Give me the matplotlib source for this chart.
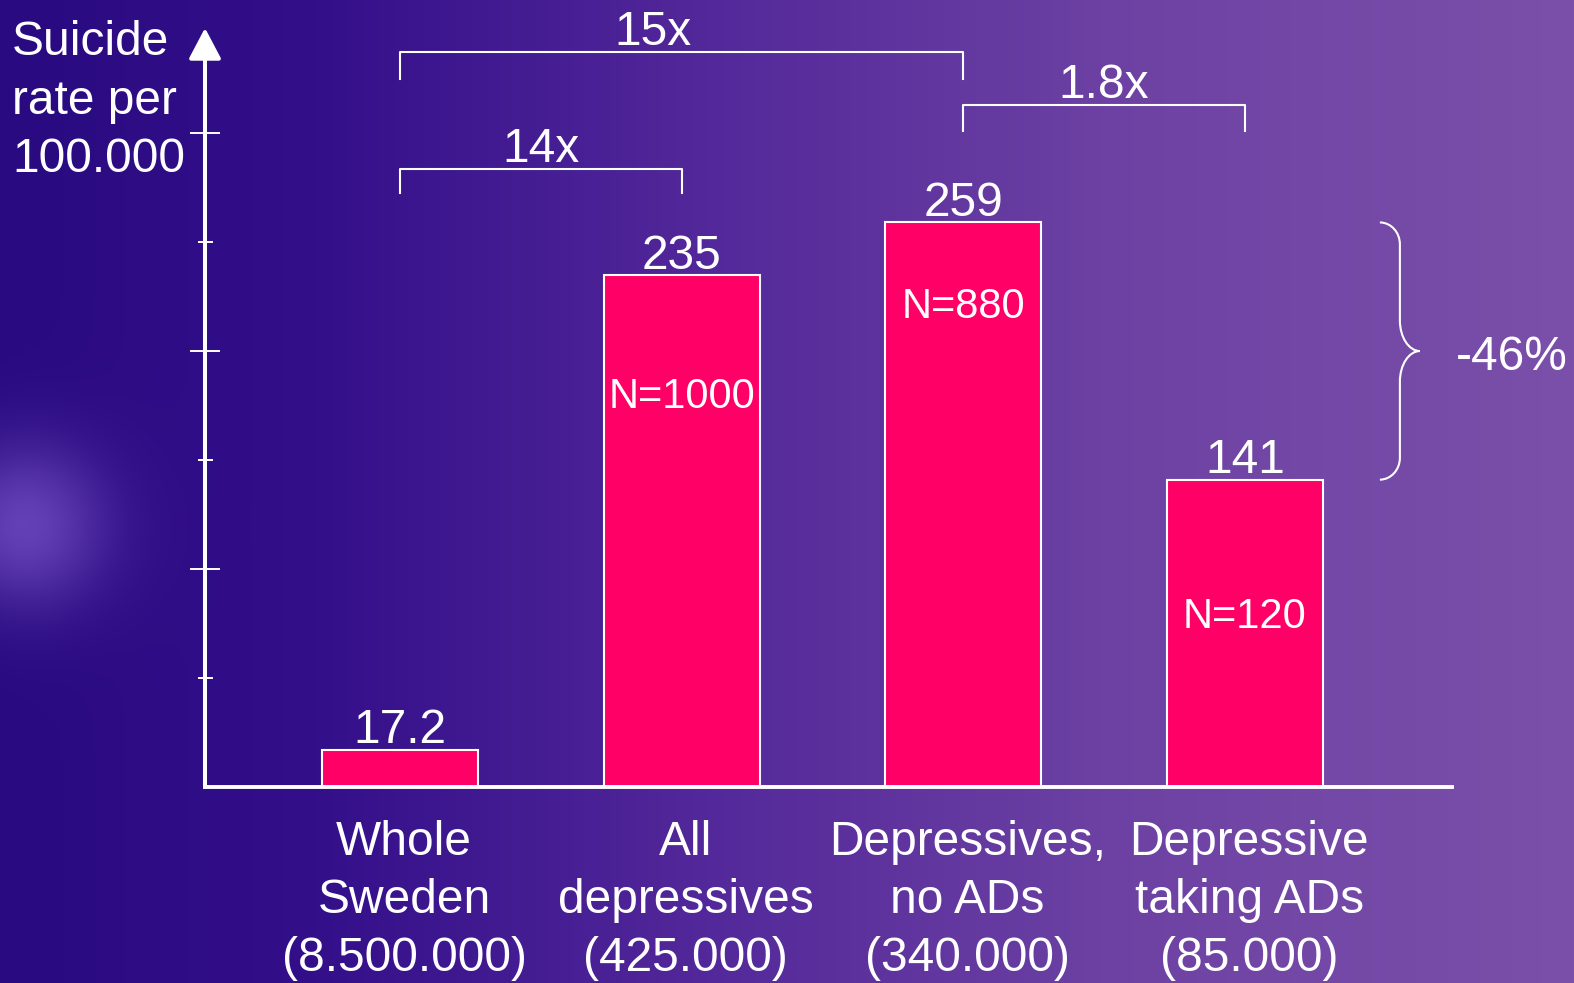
import numpy as np
import matplotlib
matplotlib.use("Agg")
import matplotlib.pyplot as plt
from matplotlib.path import Path
from matplotlib.patches import PathPatch
from matplotlib.colors import to_rgb

plt.rcParams["font.family"] = ["Liberation Sans", "DejaVu Sans"]

# suicide rate per 100.000 by group
groups = ["Whole\nSweden\n(8.500.000)", "All\ndepressives\n(425.000)",
          "Depressives,\nno ADs\n(340.000)", "Depressive\ntaking ADs\n(85.000)"]
rates = [17.2, 235, 259, 141]
rate_labels = ["17.2", "235", "259", "141"]
n_labels = ["", "N=1000", "N=880", "N=120"]
n_label_y = [0, 179, 220, 78]

# comparison brackets: (left bar, right bar, text, text x, bracket top, end drop)
brackets = [(0, 2, "15x", 0.90, 337, 12),
            (0, 1, "14x", 0.50, 283.5, 11),
            (2, 3, "1.8x", 2.50, 313, 12)]
change_label = "-46%"

FS = 34.5
W, H, DPI = 1574, 983, 100
fig = plt.figure(figsize=(W / DPI, H / DPI), dpi=DPI)

# slide background: indigo -> violet, with a soft glow at the left edge
bg = fig.add_axes([0, 0, 1, 1], zorder=-10)
stops = [0.0, 0.2, 0.45, 0.7, 1.0]
cols = np.array([to_rgb(c) for c in ["#290a80", "#330f8a", "#53289a", "#6c41a3", "#7b50aa"]])
xs = np.linspace(0, 1, W)
img = np.stack([np.interp(xs, stops, cols[:, k]) for k in range(3)], axis=-1)
img = np.repeat(img[None, :, :], H, axis=0)
yy, xx = np.mgrid[0:H, 0:W]
glow = np.exp(-(((xx - 25) ** 2 + (yy - 525) ** 2) / (2 * 58.0 ** 2)))
glow_col = np.array(to_rgb("#8a64d8"))
img = img * (1 - 0.6 * glow[..., None]) + glow_col * 0.6 * glow[..., None]
bg.imshow(img, aspect="auto", extent=(0, 1, 0, 1))
bg.axis("off")

ax = fig.add_axes([205 / W, 1 - 787 / H, (1452 - 205) / W, (787 - 28) / H])
ax.set_facecolor("none")
x = np.arange(len(groups))
ax.bar(x, rates, width=0.554, color="#ff0066", edgecolor="white", linewidth=1.5, zorder=3)
ax.set_xlim(-0.692, 3.735)
ax.set_ylim(0, 348.2)

for s in ["top", "right", "left"]:
    ax.spines[s].set_visible(False)
ax.spines["bottom"].set_color("white")
ax.spines["bottom"].set_linewidth(2.8)
ax.spines["bottom"].set_zorder(4)

# y axis with arrow head
ax.annotate("", xy=(0, 1), xycoords="axes fraction", xytext=(0, 0),
            arrowprops=dict(arrowstyle="-|>,head_length=0.95,head_width=0.5",
                            mutation_scale=20, color="white", lw=2.9,
                            shrinkA=0, shrinkB=0), annotation_clip=False)
ax.set_yticks([100, 200, 300])
ax.set_yticks([50, 150, 250], minor=True)
ax.tick_params(axis="y", which="major", direction="inout", length=21.6, width=1.4,
               color="white", labelleft=False)
ax.tick_params(axis="y", which="minor", direction="inout", length=10.8, width=1.4,
               color="white", labelleft=False)

ax.set_xticks(x + 0.015, groups)
ax.tick_params(axis="x", length=0, pad=24, labelsize=FS, labelcolor="white")
for t in ax.get_xticklabels():
    t.set_linespacing(1.36)

for xi, v, lab in zip(x, rates, rate_labels):
    ax.annotate(lab, (xi, v), xytext=(0, 4.5), textcoords="offset points",
                ha="center", va="baseline", fontsize=FS, color="white")
for xi, lab, yv in zip(x, n_labels, n_label_y):
    if lab:
        ax.text(xi, yv, lab, ha="center", va="center", fontsize=30, color="white", zorder=5)

for a, b, lab, tx, top, drop in brackets:
    ax.plot([x[a], x[a], x[b], x[b]], [top - drop, top, top, top - drop],
            color="white", lw=1.5, clip_on=False)
    ax.annotate(lab, (tx, top), xytext=(0, 5), textcoords="offset points",
                ha="center", va="baseline", fontsize=FS, color="white",
                annotation_clip=False)

# curly brace between the two depressive groups
top, bot = rates[2], rates[3]
mid = (top + bot) / 2
xe, xv, xt = 3.479, 3.550, 3.621
r1, r2 = 10, 14
verts = [(xe, top), (xe + 0.55 * (xv - xe), top), (xv, top - 0.45 * r1), (xv, top - r1),
         (xv, mid + r2),
         (xv, mid + 0.45 * r2), (xv + 0.45 * (xt - xv), mid), (xt, mid),
         (xv + 0.45 * (xt - xv), mid), (xv, mid - 0.45 * r2), (xv, mid - r2),
         (xv, bot + r1),
         (xv, bot + 0.45 * r1), (xe + 0.55 * (xv - xe), bot), (xe, bot)]
codes = [Path.MOVETO, Path.CURVE4, Path.CURVE4, Path.CURVE4, Path.LINETO,
         Path.CURVE4, Path.CURVE4, Path.CURVE4, Path.CURVE4, Path.CURVE4, Path.CURVE4,
         Path.LINETO, Path.CURVE4, Path.CURVE4, Path.CURVE4]
ax.add_patch(PathPatch(Path(verts, codes), fc="none", ec="white", lw=1.5, clip_on=False))
ax.text(3.75, mid - 3, change_label, ha="left", va="center", fontsize=FS, color="white")

fig.text(12 / W, 1 - 101 / H, "Suicide\nrate per\n100.000", ha="left", va="center",
         fontsize=FS, color="white", linespacing=1.39)

fig.savefig("out.png", dpi=DPI)
